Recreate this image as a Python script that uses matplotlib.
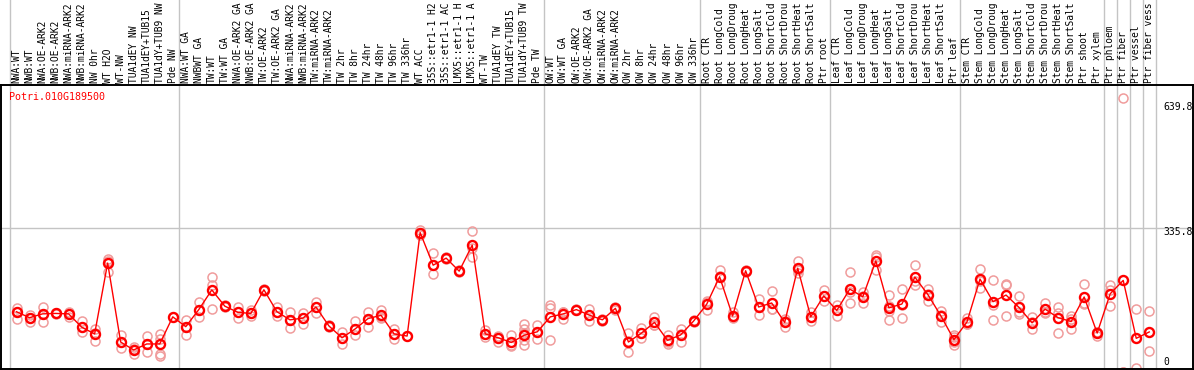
import matplotlib
matplotlib.use("Agg")
import matplotlib.pyplot as plt

# column labels (top, rotated) - the chart only shows the first 14 characters
labels = [
    "NWA:WT", "NWB:WT", "NWA:OE-ARK2", "NWB:OE-ARK2", "NWA:miRNA-ARK2", "NWB:miRNA-ARK2",
    "NW 0hr", "WT H2O", "WT-NW", "TUA1dEY NW", "TUA1dEY+TUB15 NW", "TUA1dY+TUB9 NW", "Pde NW",
    "NWA:WT GA", "NWBWT GA", "TW:WT", "TW:WT GA", "NWA:OE-ARK2 GA", "NWB:OE-ARK2 GA",
    "TW:OE-ARK2", "TW:OE-ARK2 GA", "NWA:miRNA-ARK2 GA", "NWB:miRNA-ARK2 GA", "TW:miRNA-ARK2",
    "TW:miRNA-ARK2 GA", "TW 2hr", "TW 8hr", "TW 24hr", "TW 48hr", "TW 96hr", "TW 336hr",
    "WT ACC", "35S::etr1-1 H2O", "35S::etr1-1 ACC", "LMX5::etr1-1 H2O", "LMX5::etr1-1 ACC",
    "WT-TW", "TUA1dEY TW", "TUA1dEY+TUB15 TW", "TUA1dY+TUB9 TW", "Pde TW",
    "OW:WT", "OW:WT GA", "OW:OE-ARK2", "OW:OE-ARK2 GA", "OW:miRNA-ARK2", "OW:miRNA-ARK2 GA",
    "OW 2hr", "OW 8hr", "OW 24hr", "OW 48hr", "OW 96hr", "OW 336hr",
    "Root CTR", "Root LongCold", "Root LongDrought", "Root LongHeat", "Root LongSalt",
    "Root ShortCold", "Root ShortDrought", "Root ShortHeat", "Root ShortSalt", "Ptr root",
    "Leaf CTR", "Leaf LongCold", "Leaf LongDrought", "Leaf LongHeat", "Leaf LongSalt",
    "Leaf ShortCold", "Leaf ShortDrought", "Leaf ShortHeat", "Leaf ShortSalt", "Ptr leaf",
    "Stem CTR", "Stem LongCold", "Stem LongDrought", "Stem LongHeat", "Stem LongSalt",
    "Stem ShortCold", "Stem ShortDrought", "Stem ShortHeat", "Stem ShortSalt", "Ptr shoot",
    "Ptr xylem", "Ptr phloem", "Ptr fiber", "Ptr vessel", "Ptr fiber vessel",
]

# mean expression per column
means = [
    140, 126, 135, 136, 135, 104, 88, 254, 69, 50.5, 64.5, 64.5, 128,
    105, 145, 191, 153, 138.5, 136, 191.5, 140, 121, 125, 151, 106.5, 79, 99.5, 124,
    131.5, 88, 83, 325.5, 249, 265.5, 235, 296, 88, 79, 68, 85, 93,
    128, 135, 145, 132, 121, 148, 69, 90, 115, 73, 85.5, 118,
    157, 222, 130, 236, 151, 160.5, 115, 242, 128, 177,
    143, 193, 175, 259, 149, 158, 221, 180, 130, 74.6,
    116, 216.5, 163.5, 179, 150, 114, 146, 126, 117, 174.5, 90,
    182, 213.3, 77.7, 92.6,
]

# replicate values per column
reps = [
    [149, 124, 140], [132, 115, 126], [152, 117, 135], [138, 134, 136], [140, 128, 135],
    [118, 92, 104], [100, 72, 90], [263, 232, 258], [85, 55, 69], [57, 42, 52],
    [83, 46, 64], [88, 77, 40, 37], [128],
    [121, 85, 105], [163.5, 128, 145], [221, 202.5, 146], [155, 151, 153], [151, 125, 139],
    [145, 129, 136], [194, 189, 191], [150, 131, 140], [140, 102, 121], [137, 111, 125],
    [163.5, 137, 151], [108, 104, 107], [92.5, 65, 79], [118, 85, 99.5], [140, 104, 124],
    [143, 125, 127], [99.5, 76, 88], [83], [332, 325, 320], [277, 228, 249],
    [268, 263, 265], [235, 233, 237], [329.5, 269, 290], [97, 88, 80], [82, 79, 68],
    [85, 59, 62], [111, 100, 90, 74, 63], [109, 76, 93],
    [156, 149.5, 74], [140, 124, 140], [147, 143, 145], [147, 118, 132], [122, 119, 121],
    [150, 145, 148], [90, 46, 71], [101, 79, 90], [127, 110, 108], [86, 64.5, 68],
    [99.5, 69, 88], [121, 115, 118],
    [163, 143, 165], [237.6, 204, 224], [139, 125, 127], [238, 234, 236], [170, 132, 151],
    [189, 146, 147], [118, 104, 123], [258, 230, 238], [139, 118, 127], [190, 165, 176],
    [156, 129, 144], [233, 160.5, 186], [187, 160.5, 177], [272.5, 237, 267], [179, 142, 121, 154],
    [193, 126, 155], [249, 202.5, 212], [194, 165, 181], [141, 117, 132], [86, 61, 70, 80],
    [124.5, 112, 112], [240.6, 196, 213], [214, 121, 155], [205, 130, 202], [176, 135, 139],
    [127, 99.5, 115], [160.5, 140, 137.5], [151, 90, 137], [122, 99.5, 129.5], [205.6, 160, 158],
    [93, 84, 93],
    [201.6, 154, 190], [639.8, 0, 0], [146, 8], [142, 49],
]

group_edges = [0, 13, 41, 53, 63, 73, 84, 85, 86, 87, 88]
gene = "Potri.010G189500"
y_marks = [639.8, 335.8, 0]

W, H = 1194, 370
fig = plt.figure(figsize=(W / 100, H / 100), dpi=100)
ax_left, ax_bottom, ax_w, ax_h = 1, 1, 1192, 284
ax = fig.add_axes([ax_left / W, ax_bottom / H, ax_w / W, ax_h / H])

col_px = 13.02
y_px = 0.427
xmin = -(10 - ax_left) / col_px
ymin = 2.5 / y_px
ax.set_xlim(xmin, xmin + ax_w / col_px)
ax.set_ylim(ymin, ymin + ax_h / y_px)
ax.set_xticks([])
ax.set_yticks([])
for s in ax.spines.values():
    s.set_linewidth(1.4)
    s.set_color("black")

mono = "DejaVu Sans Mono"
grey = "#c4c4c4"
pink = "#f09c9c"

# group separators reaching up through the label band
for e in group_edges:
    ax.axvline(e, ymin=0, ymax=1 + 85 / ax_h, color=grey, lw=1, clip_on=False, zorder=1)
ax.axhline(335.8, color=grey, lw=1, zorder=1)

# replicates
for i, r in enumerate(reps):
    ax.plot([i + 0.5] * len(r), r, "o", ms=6.5, mfc="none", mec=pink, mew=1.1, zorder=2)

xs = [i + 0.5 for i in range(len(means))]
ax.plot(xs, means, color="red", lw=1, zorder=3)
ax.plot(xs, means, "o", ms=6.5, mfc="none", mec="red", mew=1.7, zorder=4)

# rotated column labels, cut to the 14 characters the band can hold
for i, lab in enumerate(labels):
    ax.annotate(lab[:14].rstrip(), xy=(i + 0.5, 1), xycoords=("data", "axes fraction"),
                xytext=(0, 1.2), textcoords="offset points", rotation=90,
                ha="center", va="bottom", fontsize=6.9, family=mono,
                annotation_clip=False)

# right hand value marks
offsets = [-6, -2.8, 6.6]
for v, off in zip(y_marks, offsets):
    txt = f"{v:g}" if v == 0 else f"{v:.1f}"
    ax.annotate(txt, xy=((1163 - ax_left) / ax_w, v), xycoords=("axes fraction", "data"),
                xytext=(0, off), textcoords="offset points", ha="left", va="center",
                fontsize=7.0, family=mono, annotation_clip=False)

ax.text((9 - ax_left) / ax_w, 1 - 11.7 / ax_h, gene, transform=ax.transAxes,
        color="red", ha="left", va="center", fontsize=7.2, family=mono)

fig.savefig("out.png", dpi=100)
